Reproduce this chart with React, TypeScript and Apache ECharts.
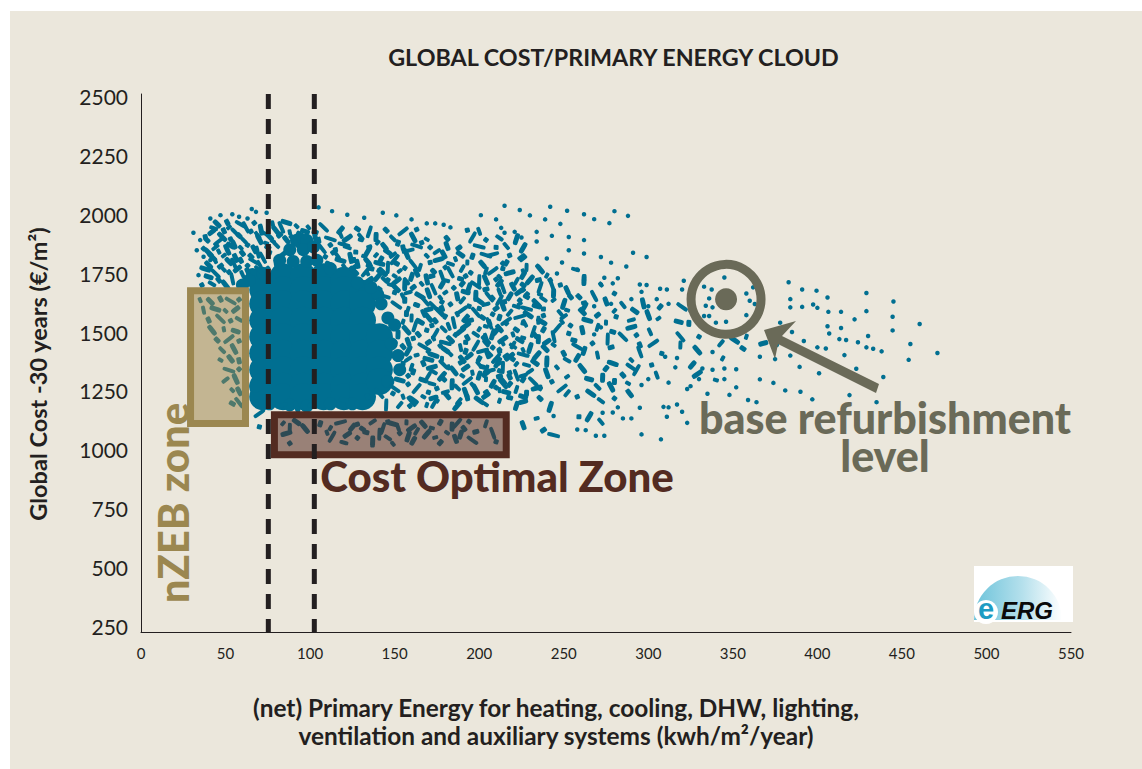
import React, { useEffect, useRef } from "react";
import * as echarts from "echarts";

const xTicks = [0, 50, 100, 150, 200, 250, 300, 350, 400, 450, 500, 550];
const yTicks = [250, 500, 750, 1000, 1250, 1500, 1750, 2000, 2250, 2500];
const thresholds = [75.3, 102.5];
const baseLevel = [[346, 1639]];
const nzebX = [29.3, 61.8];
const nzebY = [1111, 1676];
const costX = [78.9, 216];
const costY = [979, 1149];

const coreCloud = [
  [72,1680],[72,1620],[72,1550],[72,1480],[72,1410],[72,1340],[72,1270],[72,1225],
  [84,1735],[84,1680],[84,1620],[84,1550],[84,1480],[84,1410],[84,1340],[84,1270],[84,1225],
  [96,1735],[96,1680],[96,1620],[96,1550],[96,1480],[96,1410],[96,1340],[96,1270],[96,1225],
  [108,1735],[108,1680],[108,1620],[108,1550],[108,1480],[108,1410],[108,1340],[108,1270],[108,1225],
  [120,1720],[120,1680],[120,1620],[120,1550],[120,1480],[120,1410],[120,1340],[120,1270],[120,1225],
  [131,1665],[131,1620],[131,1550],[131,1480],[131,1410],[131,1340],[131,1270],[131,1225],
  [141,1480],[141,1410],[141,1340],[141,1290],
];
const upperCloud = [
  [92,1890],[98,1890],[88,1850],[96,1850],[102,1862],[82,1805],[90,1800],[98,1800],[104,1805],
  [66,1745],[72,1750],[64,1720],[60,1700],[112,1770],[128,1710],[140,1660],[142,1620],[146,1560],[150,1530],[136,1690],
  [148,1450],[152,1400],[153,1340],[146,1290],[68,1270],[76,1195],[88,1190],[98,1185],[112,1195],[125,1195],
];
const beansBack = [
  [45,1960],[51,1966],[59,1958],[67,1964],[78,1956],[86,1966],[92,1950],
  [42,1926],[49,1930],[56,1922],[65,1928],[73,1920],[80,1930],[88,1924],[97,1928],
  [39,1891],[46,1886],[53,1895],[61,1888],[70,1894],[78,1886],[86,1892],[105,1890],[112,1896],
  [37,1855],[44,1860],[51,1850],[59,1858],[67,1852],[75,1860],[107,1855],[115,1850],[122,1860],
  [42,1820],[49,1825],[56,1815],[65,1822],[72,1816],[109,1820],[116,1826],[124,1815],[132,1822],
  [40,1785],[47,1780],[55,1790],[63,1782],[70,1788],[112,1785],[120,1780],[128,1790],[135,1782],
  [44,1749],[52,1755],[60,1745],[126,1760],[134,1750],[142,1755],[46,1721],[54,1726],[136,1716],[144,1722],[151,1716],
  [35,1636],[41,1630],[47,1640],[53,1632],[58,1638],[37,1593],[44,1598],[50,1590],[56,1596],
  [40,1551],[47,1556],[53,1548],[58,1554],[42,1508],[49,1512],[56,1504],[45,1466],[52,1470],[58,1462],
  [48,1423],[55,1428],[47,1381],[53,1386],[58,1378],[52,1338],[58,1342],[50,1296],[56,1300],[54,1253],[58,1248],[54,1196],[58,1200],
  [38,1905],[43,1942],[48,1905],[52,1945],[55,1872],[58,1910],[62,1945],[63,1870],[69,1912],[71,1935],[74,1878],[76,1905],[82,1912],[83,1945],[89,1905],[92,1875],[95,1912],[99,1945],[103,1905],[103,1925],[108,1945],[112,1870],[118,1915],
  [40,1838],[46,1842],[53,1868],[60,1835],[69,1840],[76,1838],[80,1870],[84,1830],[44,1802],[52,1800],[59,1805],[67,1800],[75,1770],[80,1780],[38,1768],[49,1765],[57,1768],[63,1760],[70,1762],[36,1700],[42,1705],[50,1700],[58,1705],[40,1735],
  [145,1933],[155,1928],[163,1936],[149,1898],[161,1902],[169,1894],[144,1863],[155,1858],[163,1866],[171,1860],
  [149,1827],[157,1832],[169,1824],[179,1830],[151,1792],[161,1788],[171,1796],[183,1790],
  [143,1756],[153,1760],[163,1752],[173,1758],[183,1754],[146,1721],[157,1716],[169,1724],[181,1718],
  [151,1685],[161,1690],[173,1682],[185,1688],[155,1650],[165,1654],[177,1646],[187,1652],
  [163,1615],[173,1610],[183,1618],[167,1579],[177,1584],[187,1576],[165,1544],[174,1548],[185,1540],
  [169,1508],[179,1512],[189,1504],[173,1473],[183,1468],[193,1476],[167,1438],[177,1442],[189,1434],
  [173,1402],[183,1406],[194,1398],[167,1367],[179,1362],[189,1370],[173,1331],[185,1335],[196,1327],
  [167,1296],[179,1300],[193,1292],[175,1260],[187,1264],[198,1256],[167,1225],[181,1230],[193,1221],
  [204,1827],[214,1792],[226,1813],[204,1721],[212,1735],[220,1693],[228,1650],[206,1650],[215,1629],[222,1608],
  [234,1622],[244,1636],[252,1678],[259,1650],[268,1653],[280,1664],[285,1615],[297,1622],[252,1593],[261,1586],[270,1572],
  [206,1537],[216,1537],[227,1537],[237,1544],[249,1544],[261,1508],[279,1501],[285,1480],[293,1487],[301,1501],
  [204,1466],[214,1452],[224,1466],[233,1487],[244,1480],[253,1494],[206,1409],[218,1395],[226,1423],[239,1430],[250,1409],
  [258,1438],[267,1452],[270,1402],[279,1367],[290,1381],[204,1324],[218,1310],[232,1289],[243,1289],[252,1381],[261,1345],
  [212,1253],[226,1225],[236,1218],[249,1260],[258,1225],[270,1267],[278,1267],[288,1282],[289,1239],
];
const beansFore = [
  [118,1933],[128,1938],[135,1926],[193,1933],[200,1928],[122,1898],[130,1892],[139,1904],[181,1898],[196,1902],[204,1892],[212,1900],[222,1895],
  [135,1863],[181,1866],[188,1858],[200,1864],[210,1860],[216,1866],[226,1858],[139,1827],[189,1830],[196,1822],[208,1830],[218,1826],[225,1820],
  [141,1792],[193,1796],[202,1788],[216,1794],[133,1756],[195,1752],[204,1760],[218,1752],[226,1758],[135,1721],[189,1726],[200,1718],[210,1724],[222,1716],[230,1722],
  [141,1685],[194,1690],[204,1682],[214,1688],[226,1680],[145,1650],[198,1654],[208,1646],[218,1652],[228,1658],[151,1615],[194,1610],[204,1618],[214,1612],[224,1620],[234,1610],
  [157,1579],[198,1584],[208,1576],[218,1582],[229,1574],[155,1544],[194,1548],[206,1540],[216,1546],[226,1538],[235,1550],
  [157,1508],[200,1512],[210,1504],[222,1510],[232,1502],[161,1473],[204,1478],[214,1468],[226,1476],[235,1470],
  [155,1438],[198,1442],[208,1434],[220,1440],[230,1432],[163,1402],[205,1406],[216,1398],[226,1404],[155,1367],[200,1362],[211,1370],[222,1364],[233,1370],
  [161,1331],[206,1335],[218,1327],[230,1333],[153,1296],[204,1300],[214,1292],[226,1298],[163,1260],[210,1264],[222,1256],[234,1262],
  [155,1225],[204,1230],[218,1221],[145,1190],[159,1186],[173,1192],[187,1186],[204,1192],[222,1186],
  [235,1721],[243,1700],[242,1721],[257,1766],[262,1721],[272,1702],[226,1742],[307,1607],[320,1607],[281,1565],[290,1551],[300,1572],[306,1558],[318,1544],[324,1537],
  [319,1480],[330,1480],[343,1452],[351,1466],[358,1480],[368,1452],[295,1445],[303,1452],[308,1409],[319,1445],[329,1423],[344,1388],[326,1360],[356,1430],
  [204,1335],[302,1360],[305,1317],[329,1321],[340,1296],[273,1306],[285,1317],[293,1338],
  [280,1218],[272,1208],[242,1182],[234,1133],[226,1104],[238,1083],[244,1062],[259,1140],[272,1119],[265,1140],
  [84,1112],[92,1118],[106,1110],[118,1116],[128,1108],[137,1118],[149,1110],[157,1116],[167,1108],[177,1116],[187,1112],[194,1120],[204,1110],
  [86,1069],[110,1072],[122,1064],[133,1074],[141,1066],[153,1070],[163,1078],[169,1066],[181,1072],[189,1064],[198,1076],[208,1070],
  [88,1027],[120,1030],[137,1035],[149,1025],[161,1038],[177,1030],[196,1040],[210,1034],
  [84,1190],[92,1182],[100,1190],[120,1211],[128,1196],[141,1239],[149,1239],[153,1190],[161,1211],[169,1190],[173,1220],[68,1197],[70,1154],[70,1097],
  [88,1095],[97,1090],[112,1092],[125,1095],[131,1088],[143,1090],[146,1118],[152,1095],[160,1092],[172,1092],[184,1098],[191,1090],[113,1055],[128,1050],[146,1050],[158,1056],[174,1052],[186,1046],
  [114,1840],[120,1872],[127,1840],[130,1905],[134,1842],[140,1880],[146,1840],[152,1878],[158,1846],[166,1880],[175,1842],[118,1805],[126,1806],[134,1800],[142,1810],[150,1808],[156,1772],[165,1775],[176,1808],[186,1810],[126,1775],[136,1770],[146,1775],[180,1775],[190,1770],
  [140,1735],[150,1738],[160,1735],[172,1738],[178,1738],[192,1738],[148,1700],[156,1700],[166,1705],[178,1702],[190,1705],[198,1700],[150,1668],[158,1668],[170,1665],[180,1668],[192,1670],[156,1635],[168,1632],[178,1628],[190,1635],[200,1632],
  [158,1598],[170,1596],[178,1600],[190,1594],[200,1600],[160,1560],[170,1562],[180,1565],[192,1558],[202,1562],[162,1526],[172,1528],[182,1524],[192,1526],[204,1524],[152,1490],[164,1490],[174,1492],[186,1488],[198,1490],[208,1490],
  [150,1455],[158,1458],[170,1456],[180,1454],[192,1456],[204,1452],[158,1420],[170,1420],[180,1424],[192,1418],[202,1420],[212,1418],[158,1385],[170,1384],[178,1386],[190,1384],[200,1386],[210,1388],[220,1384],
  [160,1350],[172,1350],[182,1350],[192,1348],[202,1352],[214,1350],[158,1314],[170,1315],[178,1312],[190,1314],[200,1315],[212,1312],[222,1316],[158,1278],[172,1280],[184,1278],[196,1276],[208,1280],[218,1278],
  [150,1260],[170,1244],[180,1245],[192,1242],[204,1246],[216,1244],[228,1240],[160,1205],[175,1208],[188,1206],[200,1210],[212,1208],[226,1204],[134,1225],
  [208,1760],[214,1770],[228,1775],[236,1768],[240,1740],[212,1708],[226,1700],[236,1690],[248,1700],[212,1670],[224,1672],[236,1660],[244,1665],[254,1650],[212,1635],[224,1635],[238,1640],[250,1620],[262,1625],[275,1630],
  [210,1600],[228,1600],[238,1598],[248,1580],[262,1605],[280,1590],[292,1590],[212,1562],[224,1565],[238,1570],[250,1565],[264,1550],[275,1540],[212,1515],[238,1510],[246,1515],[254,1528],[270,1520],[290,1520],
  [220,1490],[240,1458],[256,1465],[276,1470],[212,1425],[220,1445],[234,1400],[244,1445],[262,1420],[278,1435],[295,1415],[212,1370],[228,1360],[240,1375],[246,1350],[258,1390],[275,1345],[290,1350],
  [212,1335],[226,1315],[240,1325],[252,1310],[265,1300],[280,1290],[214,1280],[236,1260],[252,1240],[266,1240],
];
const dots = [
  [65.5,2023],[68,2011],[74.3,2007],[105,2030],[113,2014],[122,1999],[132,1986],[143,2007],[151,1996],[160,1979],[169,1962],[174,1962],[179,1956],[183,1945],
  [201,1997],[210,1979],[215,2037],[224,2019],[230,1996],[41,1983],[47,1997],[54,2001],[58,1990],[63,1983],[31,1922],[35,1891],[33,1848],[37,1820],[41,1806],[34,1742],
  [239,1979],[242,2033],[248,1960],[252,2016],[262,2001],[268,1980],[277,1963],[280,2014],[288,1994],[213,1943],[215,1922],[221,1926],[225,1902],[234,1926],[234,1885],[243,1909],[253,1904],[262,1891],
  [253,1848],[262,1834],[291,1837],[299,1819],[272,1819],[278,1795],[287,1779],[240,1813],[249,1796],[258,1766],[246,1749],[262,1721],[274,1731],[282,1729],[279,1707],[272,1702],[295,1702],[299,1700],
  [296,1671],[307,1684],[311,1681],[321,1718],[320,1681],[383,1712],[391,1681],[399.5,1676],[406,1647],[384,1640],[384,1605],[391,1607],[397.5,1617],[400,1603],[429,1666],[445,1630],
  [414,1586],[406.5,1586],[422,1554],[429,1589],[444.5,1565],[460.5,1534],[444.5,1507],[430,1483],[414,1517],[406,1525],[407,1494],[413,1470],[417,1466],[424,1457],[429,1435],[433,1429],[438,1418],
  [455,1449],[471,1411],[454,1382],[416,1402],[405,1430],[400,1435],[389.5,1352],[401,1325],[423,1344],[439,1309],[419,1232],[435,1202],[397,1214],[390,1246],[381,1252],[374,1284],[366,1299],
  [352,1265],[348,1233],[359,1211],[364,1202],[335,1238],[323,1258],[296,1065],[307.5,1044],[323,1114],[311,1140],[320,1161],[317,1192],[312,1180],[309,1182],[295,1178],[290,1133],[285,1133],
  [279,1158],[282,1180],[273,1157],[274,1059],[269,1059],[263,1083],[258,1086],[244,1143],[336,1643],[345,1732],[333,1693],[337.5,1681],[334,1612],[338,1605],[336,1568],[346,1544],[358,1664],[362,1690],[360,1633],[363,1619],[358,1572],[333,1568],
  [378,1540],[385,1500],[392,1462],[376,1445],[366,1395],[375,1385],[384,1400],[396,1395],[345,1345],[352,1342],[338,1340],[316,1350],[332,1345],[310,1395],[317,1390],[338,1415],[300,1300],[312,1285],[296,1275],[325,1270],[330,1300],[345,1300],
  [340,1540],[325,1590],[312,1620],[305,1640],[300,1610],[290,1640],[278,1620],[268,1610],[272,1520],[268,1490],
];

const backTurns = [-45, -62, -30, -52, -78, -18, -45, 38, -66];
const foreTurns = [50, -35, 72, 15, -70, 35, -15, 88, -50, 60];
const beanShapes = [[10, 5], [7, 5], [13, 4], [5, 5], [9, 4], [12, 5], [6, 4]];

export default function App() {
  const ref = useRef<HTMLDivElement>(null);
  useEffect(() => {
    const chart = echarts.init(ref.current!, undefined, { renderer: "svg" });
    const FONT = "Lato";
    const TEAL = "#006f91";
    const INK = "#231f20";
    const OLIVE = "#9b8750";
    const BROWN = "#532b21";
    const GREY = "#6a6a58";
    const plain = (v: number) => String(v);
    const pointSeries = (name: string, data: number[][], size: any, extra: any = {}) => ({
      type: "scatter", name, data, symbolSize: size, silent: true, z: 2,
      itemStyle: { color: TEAL, opacity: 1 }, ...extra,
    });
    const beanSize = (_v: any, p: any) => beanShapes[p.dataIndex % beanShapes.length];
    chart.setOption({
      animation: false,
      backgroundColor: "transparent",
      title: {
        text: "GLOBAL COST/PRIMARY ENERGY CLOUD", left: 608.5, top: 40, textAlign: "center",
        textStyle: { fontFamily: FONT, fontSize: 23.3, fontWeight: 700, color: INK },
      },
      grid: { left: 141, top: 94, width: 930, height: 538 },
      xAxis: {
        type: "value", min: 0, max: 550, interval: 50,
        axisLine: { show: true, onZero: false, lineStyle: { color: INK, width: 1 } },
        axisTick: { show: false }, splitLine: { show: false },
        axisLabel: { fontFamily: FONT, fontSize: 15, color: INK, margin: 13, customValues: xTicks, formatter: plain },
      },
      yAxis: {
        type: "value", min: 225, max: 2512,
        axisLine: { show: true, onZero: false, lineStyle: { color: INK, width: 1 } },
        axisTick: { show: false }, splitLine: { show: false },
        axisLabel: { fontFamily: FONT, fontSize: 21, color: INK, margin: 13, padding: [0, 0, 4, 0], customValues: yTicks, formatter: plain },
      },
      series: [
        pointSeries("core", coreCloud, 27),
        pointSeries("upper", upperCloud, 13),
        pointSeries("beansBack", beansBack, beanSize, {
          symbol: "roundRect",
          symbolRotate: (_v: any, p: any) => backTurns[p.dataIndex % backTurns.length],
        }),
        pointSeries("beansFore", beansFore, beanSize, {
          symbol: "roundRect",
          symbolRotate: (_v: any, p: any) => foreTurns[p.dataIndex % foreTurns.length],
        }),
        pointSeries("dots", dots, 4.5),
        {
          type: "scatter", name: "zones", data: [], silent: true,
          markArea: {
            silent: true, z: 5,
            data: [
              [
                { xAxis: nzebX[0], yAxis: nzebY[0], itemStyle: { color: "rgba(156,132,72,0.5)", borderColor: OLIVE, borderWidth: 7 } },
                { xAxis: nzebX[1], yAxis: nzebY[1] },
              ],
              [
                { xAxis: costX[0], yAxis: costY[0], itemStyle: { color: "rgba(83,43,33,0.54)", borderColor: BROWN, borderWidth: 7 } },
                { xAxis: costX[1], yAxis: costY[1] },
              ],
            ],
          },
        },
        ...thresholds.map((t) => ({
          type: "line", name: "threshold " + t, silent: true, symbol: "none", z: 6, clip: false,
          data: [[t, 2512], [t, 225]],
          lineStyle: { color: INK, width: 5, type: [15, 10] },
        })),
        {
          type: "scatter", name: "ring", data: baseLevel, symbolSize: 70, silent: true, z: 7,
          itemStyle: { color: "transparent", borderColor: GREY, borderWidth: 9, opacity: 1 },
        },
        {
          type: "scatter", name: "base", data: baseLevel, symbolSize: 22, silent: true, z: 7,
          itemStyle: { color: GREY, opacity: 1 },
        },
      ],
      graphic: [
        { type: "text", x: 38, y: 374, rotation: Math.PI / 2, z: 10, style: { text: "Global Cost -30 years (€/m²)", font: `700 23.5px ${FONT}`, fill: INK, align: "center", verticalAlign: "middle" } },
        { type: "text", x: 556, y: 707, z: 10, style: { text: "(net) Primary Energy for heating, cooling, DHW, lighting,", font: `700 24.4px ${FONT}`, fill: INK, align: "center", verticalAlign: "middle" } },
        { type: "text", x: 556, y: 735, z: 10, style: { text: "ventilation and auxiliary systems (kwh/m²/year)", font: `700 24.4px ${FONT}`, fill: INK, align: "center", verticalAlign: "middle" } },
        { type: "text", x: 173, y: 503, rotation: Math.PI / 2, z: 10, style: { text: "nZEB zone", font: `900 42px ${FONT}`, fill: OLIVE, align: "center", verticalAlign: "middle" } },
        { type: "text", x: 497, y: 476, z: 10, style: { text: "Cost Optimal Zone", font: `900 42px ${FONT}`, fill: BROWN, align: "center", verticalAlign: "middle" } },
        { type: "text", x: 885, y: 436, z: 10, style: { text: "base refurbishment\nlevel", font: `900 43px ${FONT}`, lineHeight: 38, fill: GREY, align: "center", verticalAlign: "middle" } },
        { type: "polygon", z: 10, shape: { points: [[764, 330], [796, 321], [782, 336], [879, 384], [876, 393], [778, 344], [775, 359]] }, style: { fill: GREY } },
        { type: "rect", z: 10, shape: { x: 974, y: 566, width: 99, height: 56 }, style: { fill: "#ffffff" } },
        {
          type: "sector", z: 11,
          shape: { cx: 1018, cy: 620, r: 44, r0: 0, startAngle: Math.PI, endAngle: 2 * Math.PI },
          style: { fill: new echarts.graphic.LinearGradient(0, 0, 1, 0, [{ offset: 0, color: "#6cc3da" }, { offset: 0.55, color: "#b5e0ec" }, { offset: 1, color: "#ffffff" }]) },
        },
        { type: "circle", z: 12, shape: { cx: 986, cy: 612, r: 12 }, style: { fill: "#ffffff" } },
        { type: "text", x: 986, y: 609, z: 13, style: { text: "e", font: "700 29px 'Liberation Sans'", fill: "#1d9cc3", align: "center", verticalAlign: "middle" } },
        { type: "text", x: 1027, y: 610, z: 13, style: { text: "ERG", font: "italic 700 24px 'Liberation Sans'", fill: "#0a0a0a", align: "center", verticalAlign: "middle" } },
      ],
    });
    return () => chart.dispose();
  }, []);
  return (
    <div style={{ position: "fixed", left: 0, top: 0, width: 1142, height: 769, background: "#ffffff", overflow: "hidden" }}>
      <div style={{ position: "absolute", left: 10, top: 11, right: 0, bottom: 0, background: "#ebe7dc" }} />
      <div ref={ref} style={{ position: "absolute", left: 0, top: 0, width: 1142, height: 769 }} />
    </div>
  );
}
